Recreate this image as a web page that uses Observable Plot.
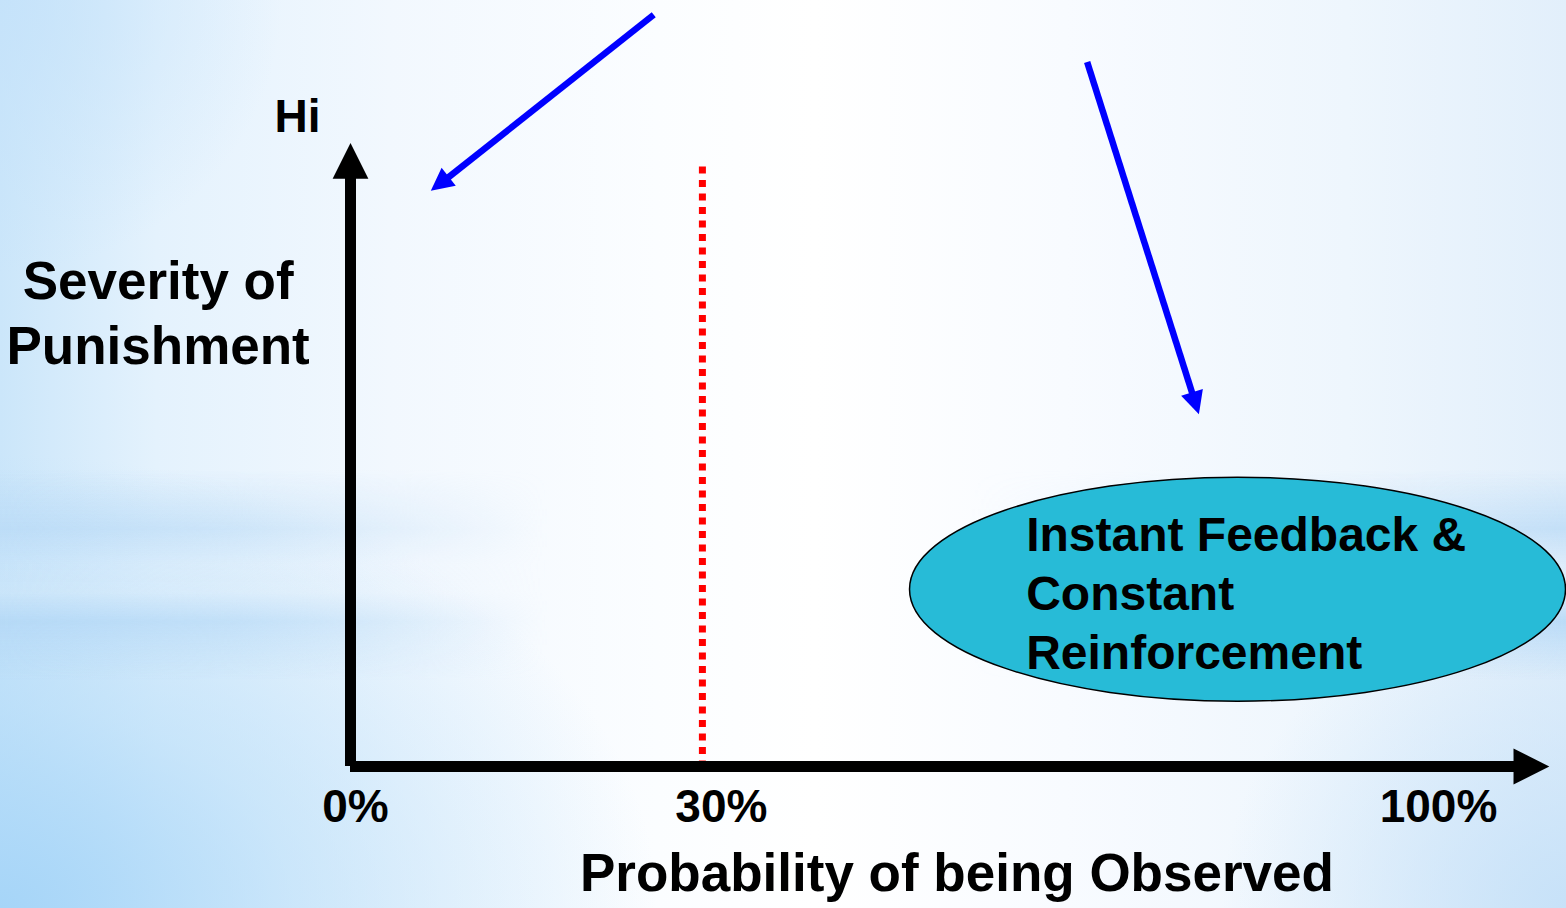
<!DOCTYPE html>
<html>
<head>
<meta charset="utf-8">
<script src="https://cdn.jsdelivr.net/npm/d3@7"></script>
<script src="https://cdn.jsdelivr.net/npm/@observablehq/plot@0.6"></script>
<style>
  html, body { margin: 0; padding: 0; }
  #wrap {
    position: relative; width: 1566px; height: 908px; overflow: hidden;
    background:
      radial-gradient(ellipse 42% 50% at 0% 100%, rgba(166,213,248,1) 0%, rgba(176,218,248,0.55) 45%, rgba(190,225,250,0) 100%),
      radial-gradient(ellipse 22% 35% at 100% 100%, rgba(196,224,248,0.9) 0%, rgba(200,226,248,0) 100%),
      radial-gradient(ellipse 18% 30% at 0% 0%, rgba(196,226,250,0.8) 0%, rgba(200,228,250,0) 100%),
      linear-gradient(to right, #cbe6fa 0%, #e4f2fd 10%, #f2f8fe 25%, #fbfdff 42%, #ffffff 52%, #f8fbff 68%, #eef6fd 86%, #e2effb 100%);
  }
  #bands {
    position: absolute; left: 0; top: 470px; width: 1566px; height: 210px;
    background: linear-gradient(to bottom,
      rgba(185,218,246,0) 0%,
      rgba(185,218,246,0.75) 28%,
      rgba(205,228,250,0.25) 45%,
      rgba(215,234,250,0.35) 58%,
      rgba(180,216,246,0.85) 72%,
      rgba(185,218,246,0) 100%);
    -webkit-mask-image: linear-gradient(to right, #000 0%, rgba(0,0,0,0.7) 15%, rgba(0,0,0,0) 35%, rgba(0,0,0,0) 62%, rgba(0,0,0,0.5) 85%, #000 100%);
    mask-image: linear-gradient(to right, #000 0%, rgba(0,0,0,0.7) 15%, rgba(0,0,0,0) 35%, rgba(0,0,0,0) 62%, rgba(0,0,0,0.5) 85%, #000 100%);
  }
  #chart { position: absolute; left: 0; top: 0; }
</style>
</head>
<body>
<div id="wrap"><div id="bands"></div><div id="chart"></div></div>
<script>
// ---- data (values in chart units: x = probability %, y = severity 0..100) ----
const tickValues = [0, 30, 100];
const tickLabels = ["0%", "30%", "100%"];
const threshold = [30];
const yTopLabel = "Hi";
const yTitleLines = ["Severity of", "Punishment"];
const xTitle = "Probability of being Observed";
const bubbleLines = ["Instant Feedback &", "Constant", "Reinforcement"];
// pointer arrows (start -> end of shaft) and their heads (base point + direction in degrees)
const pointers = [
  {x1: 25.85, y1: 125.3, x2: 7.64, y2: 97.1},
  {x1: 62.8, y1: 117.4, x2: 72.04, y2: 60.5}
];
const pointerHeads = [
  {x: 8.37, y: 98.3, angle: -128.4},
  {x: 71.74, y: 62.35, angle: 162.4}
];
const axisHeads = [
  {x: 0, y: 97.95, angle: 0},
  {x: 99.15, y: 0, angle: 90}
];

// ---- custom symbols ----
const headSymbol = deg => {
  const a = deg * Math.PI / 180, s = Math.sin(a), c = Math.cos(a);
  const rot = ([x, y]) => [x * c - y * s, x * s + y * c];
  return {
    draw(ctx, size) {
      const k = Math.sqrt(size / Math.PI);
      const p = [[0, -2 * k], [k, 0], [-k, 0]].map(rot);
      ctx.moveTo(p[0][0], p[0][1]);
      ctx.lineTo(p[1][0], p[1][1]);
      ctx.lineTo(p[2][0], p[2][1]);
      ctx.closePath();
    }
  };
};
const ellipseSymbol = aspect => ({
  draw(ctx, size) {
    const rx = Math.sqrt(size / Math.PI), ry = rx * aspect, m = 0.5523;
    ctx.moveTo(rx, 0);
    ctx.bezierCurveTo(rx, ry * m, rx * m, ry, 0, ry);
    ctx.bezierCurveTo(-rx * m, ry, -rx, ry * m, -rx, 0);
    ctx.bezierCurveTo(-rx, -ry * m, -rx * m, -ry, 0, -ry);
    ctx.bezierCurveTo(rx * m, -ry, rx, -ry * m, rx, 0);
    ctx.closePath();
  }
});

const font = {fontFamily: "'Liberation Sans', Arial, Helvetica, sans-serif", fontWeight: "bold", fill: "black"};

const marks = [
  // bubble
  Plot.dot([{x: 75.62, y: 29.55}], {x: "x", y: "y", r: 328, symbol: ellipseSymbol(112 / 328),
    fill: "#27bbd7", stroke: "black", strokeWidth: 1.5}),
  Plot.text([bubbleLines.join("\n")], {x: 57.6, y: 29.2, text: d => d, textAnchor: "start",
    lineAnchor: "middle", lineHeight: 1.22, fontSize: 48, ...font}),
  // threshold dotted line
  Plot.ruleX(threshold, {y1: 99.9, y2: 0, stroke: "#ff0000", strokeWidth: 7, strokeDasharray: "7,6.5"}),
  // axes
  Plot.ruleY([0], {x1: 0, x2: 100, stroke: "black", strokeWidth: 11}),
  Plot.ruleX([0], {y1: 0, y2: 98.6, stroke: "black", strokeWidth: 11}),
  ...axisHeads.map(h => Plot.dot([h], {x: "x", y: "y", r: 17.9, symbol: headSymbol(h.angle), fill: "black", stroke: "none"})),
  // pointer arrows
  Plot.link(pointers, {x1: "x1", y1: "y1", x2: "x2", y2: "y2", stroke: "#0000ff", strokeWidth: 6.5}),
  ...pointerHeads.map(h => Plot.dot([h], {x: "x", y: "y", r: 11.4, symbol: headSymbol(h.angle), fill: "#0000ff", stroke: "none"})),
  // labels
  Plot.text([yTopLabel], {x: -4.52, y: 108.2, text: d => d, fontSize: 46, lineAnchor: "middle", ...font}),
  Plot.text([yTitleLines.join("\n")], {x: -16.4, y: 76.0, text: d => d, fontSize: 53, lineHeight: 1.24, lineAnchor: "middle", ...font}),
  Plot.text([0], {x: d => tickValues[d], y: -6.8, text: d => tickLabels[d], dx: 5, fontSize: 46, lineAnchor: "middle", ...font}),
  Plot.text([1], {x: d => tickValues[d], y: -6.8, text: d => tickLabels[d], dx: 19, fontSize: 46, lineAnchor: "middle", ...font}),
  Plot.text([2], {x: d => tickValues[d], y: -6.8, text: d => tickLabels[d], dx: -85, fontSize: 46, lineAnchor: "middle", ...font}),
  Plot.text([xTitle], {x: 51.7, y: -18.0, text: d => d, fontSize: 53, lineAnchor: "middle", ...font})
];

const chart = Plot.plot({
  width: 1566,
  height: 908,
  margin: 0,
  style: {background: "transparent", overflow: "visible"},
  x: {domain: [0, 100], range: [350, 1523], axis: null},
  y: {domain: [0, 100], range: [766, 166], axis: null},
  marks
});
document.getElementById("chart").appendChild(chart);
</script>
</body>
</html>
